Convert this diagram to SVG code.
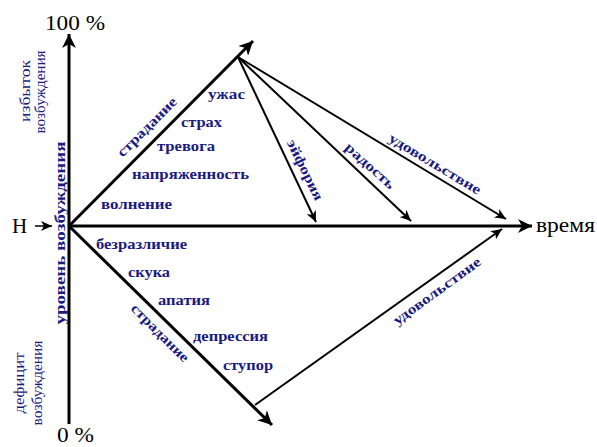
<svg xmlns="http://www.w3.org/2000/svg" width="597" height="447" viewBox="0 0 597 447" font-family="Liberation Serif, DejaVu Serif, serif">
<style>
.ax{stroke:#000;stroke-width:3;fill:none}
.th{stroke:#000;stroke-width:2;fill:none}
.lbl{font-weight:bold;font-size:14px;fill:#1a1a80}
.lr{font-size:14px;fill:#1a1a80}
.ak{font-size:21px;fill:#000}
</style>
<defs>
<marker id="big" markerUnits="userSpaceOnUse" markerWidth="16" markerHeight="14" refX="14" refY="7" orient="auto">
<path d="M0,0 L14,7 L0,14 L4,7 z" fill="#000"/>
</marker>
<marker id="sm" markerUnits="userSpaceOnUse" markerWidth="12" markerHeight="10" refX="11" refY="5" orient="auto">
<path d="M0,0 L11,5 L0,10 L3,5 z" fill="#000"/>
</marker>
</defs>
<rect width="597" height="447" fill="#fff"/>
<g id="connectors">
<line class="ax" x1="69" y1="424" x2="69" y2="34" marker-end="url(#big)"/>
<line class="ax" x1="69" y1="226" x2="532" y2="226" marker-end="url(#big)"/>
<line class="ax" x1="69" y1="226" x2="253" y2="41" marker-end="url(#big)"/>
<line class="ax" x1="69" y1="226" x2="272" y2="425" marker-end="url(#big)"/>
<line class="th" x1="238" y1="57" x2="316" y2="222" marker-end="url(#sm)"/>
<line class="th" x1="238" y1="57" x2="411" y2="221" marker-end="url(#sm)"/>
<line class="th" x1="238" y1="57" x2="506" y2="219" marker-end="url(#sm)"/>
<line class="th" x1="255" y1="405" x2="502" y2="229" marker-end="url(#sm)"/>
<line stroke="#000" stroke-width="1.5" x1="35" y1="226" x2="52" y2="226" marker-end="url(#sm)"/>
</g>
<g id="axis-labels">
<text class="ak" x="45" y="30" textLength="60" lengthAdjust="spacingAndGlyphs">100 %</text>
<text class="ak" x="57" y="442" textLength="37" lengthAdjust="spacingAndGlyphs">0 %</text>
<text class="ak" x="12" y="233" font-size="22">Н</text>
<text class="ak" x="536" y="232" font-size="22" textLength="59" lengthAdjust="spacingAndGlyphs">время</text>
<text class="lbl" font-size="17" x="60" y="233" text-anchor="middle" dominant-baseline="central" transform="rotate(-90 60 233)" textLength="183" lengthAdjust="spacingAndGlyphs">уровень возбуждения</text>
<text class="lr" x="25" y="91" text-anchor="middle" dominant-baseline="central" transform="rotate(-90 25 91)" textLength="62" lengthAdjust="spacingAndGlyphs">избыток</text>
<text class="lr" x="40" y="92" text-anchor="middle" dominant-baseline="central" transform="rotate(-90 40 92)" textLength="83" lengthAdjust="spacingAndGlyphs">возбуждения</text>
<text class="lr" x="19" y="383" text-anchor="middle" dominant-baseline="central" transform="rotate(-90 19 383)" textLength="61" lengthAdjust="spacingAndGlyphs">дефицит</text>
<text class="lr" x="37" y="383" text-anchor="middle" dominant-baseline="central" transform="rotate(-90 37 383)" textLength="85" lengthAdjust="spacingAndGlyphs">возбуждения</text>
</g>
<g id="upper-states">
<text class="lbl" x="208" y="99" textLength="37" lengthAdjust="spacingAndGlyphs">ужас</text>
<text class="lbl" x="181" y="127" textLength="41" lengthAdjust="spacingAndGlyphs">страх</text>
<text class="lbl" x="157" y="151" textLength="58" lengthAdjust="spacingAndGlyphs">тревога</text>
<text class="lbl" x="132" y="179" textLength="117" lengthAdjust="spacingAndGlyphs">напряженность</text>
<text class="lbl" x="101" y="209" textLength="71" lengthAdjust="spacingAndGlyphs">волнение</text>
<text class="lbl" x="147" y="127" text-anchor="middle" dominant-baseline="central" transform="rotate(-45 147 127)" textLength="78" lengthAdjust="spacingAndGlyphs">страдание</text>
</g>
<g id="positive-states">
<text class="lbl" x="305" y="170" text-anchor="middle" dominant-baseline="central" transform="rotate(64 305 170)" textLength="66" lengthAdjust="spacingAndGlyphs">эйфория</text>
<text class="lbl" x="370" y="166" text-anchor="middle" dominant-baseline="central" transform="rotate(42 370 166)" textLength="62" lengthAdjust="spacingAndGlyphs">радость</text>
<text class="lbl" x="435" y="164" text-anchor="middle" dominant-baseline="central" transform="rotate(31 435 164)" textLength="105" lengthAdjust="spacingAndGlyphs">удовольствие</text>
<text class="lbl" x="437" y="291" text-anchor="middle" dominant-baseline="central" transform="rotate(-36 437 291)" textLength="105" lengthAdjust="spacingAndGlyphs">удовольствие</text>
</g>
<g id="lower-states">
<text class="lbl" x="96" y="249" textLength="91" lengthAdjust="spacingAndGlyphs">безразличие</text>
<text class="lbl" x="128" y="277" textLength="42" lengthAdjust="spacingAndGlyphs">скука</text>
<text class="lbl" x="158" y="305" textLength="52" lengthAdjust="spacingAndGlyphs">апатия</text>
<text class="lbl" x="193" y="341" textLength="75" lengthAdjust="spacingAndGlyphs">депрессия</text>
<text class="lbl" x="223" y="370" textLength="50" lengthAdjust="spacingAndGlyphs">ступор</text>
<text class="lbl" x="160" y="333" text-anchor="middle" dominant-baseline="central" transform="rotate(45 160 333)" textLength="76" lengthAdjust="spacingAndGlyphs">страдание</text>
</g>
</svg>
